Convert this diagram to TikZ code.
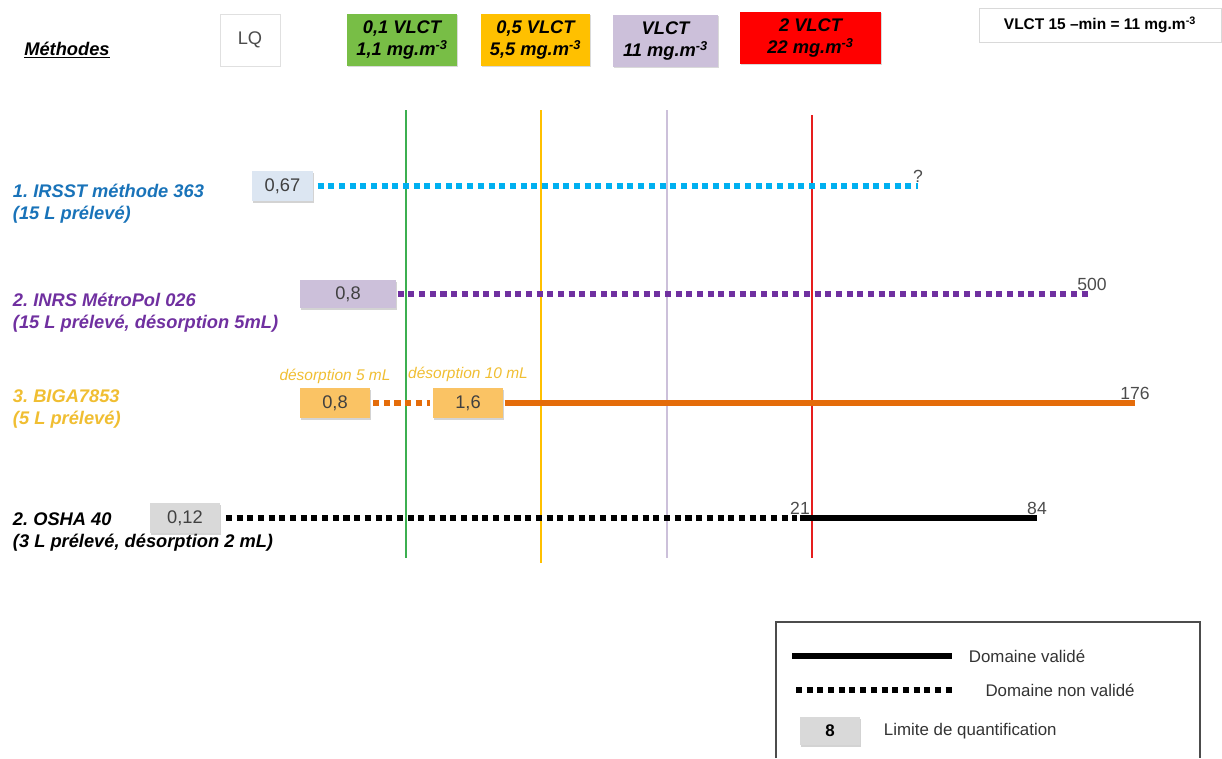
\documentclass[tikz,border=0pt]{standalone}
\usepackage{fontspec}
\setmainfont{Liberation Sans}
\frenchspacing
\usetikzlibrary{positioning}
\usetikzlibrary{shadows}

\definecolor{vert}{RGB}{60,175,80}
\definecolor{vertbox}{RGB}{120,190,70}
\definecolor{jaune}{RGB}{255,192,0}
\definecolor{mauve}{RGB}{204,192,218}
\definecolor{rouge}{RGB}{230,30,30}
\definecolor{bleu}{RGB}{25,115,185}
\definecolor{cyan}{RGB}{0,176,240}
\definecolor{violet}{RGB}{112,48,160}
\definecolor{or}{RGB}{240,190,50}
\definecolor{orange}{RGB}{228,108,10}
\definecolor{orbox}{RGB}{250,195,100}
\definecolor{bleubox}{RGB}{220,230,242}
\definecolor{grisbox}{RGB}{217,217,217}

\tikzset{
	% boites du haut
	seuil/.style={rectangle, inner sep=2pt, minimum height=1.3cm, align=center, font=\fontsize{13}{16}\selectfont\bfseries\itshape, drop shadow={opacity=0.3, shadow xshift=0.8pt, shadow yshift=-1pt}},
	% limites de quantification
	lq/.style={rectangle, inner sep=2pt, minimum height=0.75cm, text=black!75, font=\fontsize{13}{15}\selectfont, drop shadow={opacity=0.35, shadow xshift=0.8pt, shadow yshift=-1.2pt}},
	methode/.style={anchor=west, align=left, font=\fontsize{13}{15.5}\selectfont\bfseries\itshape},
	borne/.style={inner sep=1pt, text=black!70, font=\fontsize{12.5}{14}\selectfont},
	desorp/.style={inner sep=1pt, text=or, font=\fontsize{11}{13}\selectfont\itshape},
	legende/.style={anchor=west, inner sep=1pt, text=black!80, font=\fontsize{12}{14}\selectfont},
	vlct/.style={line width=1.4pt},
	valide/.style={line width=3.6pt},
	nonvalide/.style={line width=3.6pt, dash pattern=on 4.3pt off 3.3pt},
}

\begin{document}
\begin{tikzpicture}[x=0.025cm, y=-0.025cm]
	\useasboundingbox (0,0) rectangle (1222,758);
	
	\node (titre) [font=\fontsize{13}{15}\selectfont\bfseries\itshape] at (67,50) {\underline{Méthodes}};
	
	\node (hlq) [seuil, draw=black!12, fill=white, minimum width=1.5cm, font=\fontsize{13}{15}\selectfont, text=black!70] at (250,40) {LQ};
	\node (h01) [seuil, fill=vertbox, minimum width=2.75cm] at (402,40) {0,1 VLCT\\1,1 mg.m\textsuperscript{-3}};
	\node (h05) [seuil, fill=jaune, minimum width=2.725cm] at (535.5,40) {0,5 VLCT\\5,5 mg.m\textsuperscript{-3}};
	\node (h1) [seuil, fill=mauve, minimum width=2.625cm] at (665.5,41) {VLCT\\11 mg.m\textsuperscript{-3}};
	\node (h2) [seuil, fill=red, minimum width=3.525cm] at (810.5,38) {2 VLCT\\22 mg.m\textsuperscript{-3}};
	\node (h15) [seuil, draw=black!15, fill=white, minimum width=6.05cm, minimum height=0.85cm, font=\fontsize{11}{13}\selectfont\bfseries] at (1100,25) {VLCT 15 –min = 11 mg.m\textsuperscript{-3}};
	
	% lignes verticales
	\coordinate (v1t) at (406,110); \coordinate (v1b) at (406,558);
	\coordinate (v2t) at (541,110); \coordinate (v2b) at (541,563);
	\coordinate (v3t) at (667,110); \coordinate (v3b) at (667,558);
	\coordinate (v4t) at (812,115); \coordinate (v4b) at (812,558);
	
	% 1. IRSST
	\node (m1) [methode, text=bleu] at (8,204) {1. IRSST méthode 363\\(15 L prélevé)};
	\node (lq1) [lq, fill=bleubox, minimum width=1.525cm] at (282.5,186) {0,67};
	\coordinate (f1) at (918,186);
	\node (b1) [borne, above=1pt of f1] {?};
	
	% 2. INRS
	\node (m2) [methode, text=violet] at (8,313) {2. INRS MétroPol 026\\(15 L prélevé, désorption 5mL)};
	\node (lq2) [lq, fill=mauve, minimum width=2.4cm, minimum height=0.7cm] at (348,294) {0,8};
	\coordinate (f2) at (1092,294);
	\node (b2) [borne, above=1pt of f2] {500};
	
	% 3. BIGA
	\node (m3) [methode, text=or] at (8,409) {3. BIGA7853\\(5 L prélevé)};
	\node (lq3a) [lq, fill=orbox, minimum width=1.75cm] at (335,403) {0,8};
	\node (lq3b) [lq, fill=orbox, minimum width=1.75cm] at (468,403) {1,6};
	\node (d3a) [desorp, above=2pt of lq3a] {désorption 5 mL};
	\node (d3b) [desorp, above=3pt of lq3b] {désorption 10 mL};
	\coordinate (f3) at (1135,403);
	\node (b3) [borne, above=1pt of f3] {176};
	
	% 4. OSHA
	\node (m4) [methode, text=black] at (8,532) {2. OSHA 40\\(3 L prélevé, désorption 2 mL)};
	\node (lq4) [lq, fill=grisbox, minimum width=1.75cm] at (185,518) {0,12};
	\coordinate (d4) at (800,518);
	\coordinate (f4) at (1037,518);
	\node (b4a) [borne, above=1pt of d4] {21};
	\node (b4b) [borne, above=1pt of f4] {84};
	
	\begin{scope}[vlct]
		\draw[vert] (v1t) -- (v1b);
		\draw[jaune] (v2t) -- (v2b);
		\draw[mauve] (v3t) -- (v3b);
		\draw[rouge] (v4t) -- (v4b);
	\end{scope}
	
	\draw[nonvalide, cyan, shorten <=3pt] (lq1.east) -- (f1);
	\draw[nonvalide, violet, shorten <=1pt] (lq2.east) -- (f2);
	\draw[nonvalide, orange, shorten <=2pt, shorten >=2pt] (lq3a.east) -- (lq3b.west);
	\draw[valide, orange, shorten <=1pt] (lq3b.east) -- (f3);
	\draw[nonvalide, black, shorten <=4pt, shorten >=2pt] (lq4.east) -- (d4);
	\draw[valide, black] (d4) -- (f4);
	
	% legende
	\coordinate (c1) at (776,758); \coordinate (c2) at (776,622);
	\coordinate (c3) at (1200,622); \coordinate (c4) at (1200,758);
	\draw[black!70, line width=0.8pt] (c1) -- (c2) -- (c3) -- (c4);
	\coordinate (lv1) at (792,656); \coordinate (lv2) at (952,656);
	\coordinate (ln1) at (796,690); \coordinate (ln2) at (955,690);
	\draw[valide] (lv1) -- (lv2);
	\draw[nonvalide] (ln1) -- (ln2);
	\node (t1) [legende, right=0.38cm of lv2] {Domaine validé};
	\node (t2) [legende, right=0.72cm of ln2] {Domaine non validé};
	\node (lq0) [lq, fill=grisbox, minimum width=1.5cm, minimum height=0.7cm, text=black, font=\fontsize{12}{14}\selectfont\bfseries] at (830,731) {8};
	\node (t3) [legende, right=0.55cm of lq0] {Limite de quantification};
\end{tikzpicture}
\end{document}
